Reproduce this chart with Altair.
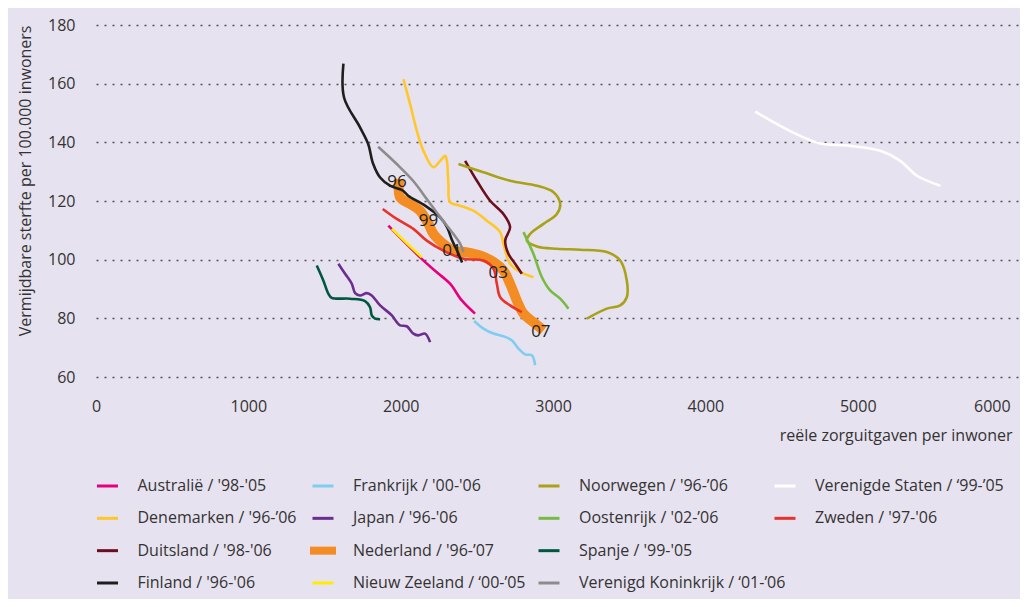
import altair as alt
import pandas as pd

# ---------------- data ----------------
COUNTRIES = [
    "Australië", "Denemarken", "Duitsland", "Finland",
    "Frankrijk", "Japan", "Nederland", "Nieuw Zeeland",
    "Noorwegen", "Oostenrijk", "Spanje", "Verenigd Koninkrijk",
    "Verenigde Staten", "Zweden",
]
LEGEND_LABELS = [
    "Australië / '98-'05", "Denemarken / '96-’06", "Duitsland / '98-'06", "Finland / '96-'06",
    "Frankrijk / '00-'06", "Japan / '96-'06", "Nederland / '96-’07", "Nieuw Zeeland / ‘00-’05",
    "Noorwegen / '96-’06", "Oostenrijk / '02-’06", "Spanje / '99-'05", "Verenigd Koninkrijk / ‘01-’06",
    "Verenigde Staten / ‘99-’05", "Zweden / '97-'06",
]
COLORS = [
    "#E6007E", "#FFC72C", "#6B0E1E", "#1E1E1E",
    "#7FCDF0", "#6B2D8F", "#F28C23", "#FFED00",
    "#A9A218", "#76BC43", "#00573F", "#8C8C8C",
    "#FFFFFF", "#E8332A",
]

AUS_X = [1919, 2127, 2237, 2324, 2401, 2488]
AUS_Y = [111.6, 100.8, 95.7, 91.8, 86.1, 81.6]

DEN_X = [2018, 2062, 2106, 2149, 2215, 2259, 2292, 2303, 2313, 2324, 2390, 2477, 2565, 2653, 2674, 2718, 2784, 2871]
DEN_Y = [161.5, 153.0, 143.9, 137.1, 131.5, 133.7, 135.4, 133.7, 125.8, 119.6, 118.4, 116.7, 113.3, 109.4, 105.4, 98.6, 95.8, 94.0]

DUI_X = [2423, 2500, 2587, 2674, 2718, 2686, 2707, 2751, 2795]
DUI_Y = [133.7, 126.9, 120.1, 115.6, 111.1, 106.5, 102.0, 98.6, 95.2]

FIN_X = [1624, 1628, 1733, 1786, 1819, 1865, 1930, 2016, 2049, 2160, 2259, 2305, 2338, 2370, 2403]
FIN_Y = [166.8, 155.3, 145.1, 139.5, 132.7, 128.0, 125.2, 123.5, 121.8, 118.4, 114.4, 111.0, 106.5, 103.1, 99.0]

FRA_X = [2482, 2543, 2609, 2674, 2729, 2773, 2817, 2861, 2876, 2882]
FRA_Y = [79.1, 76.5, 74.8, 73.9, 72.5, 69.7, 67.7, 67.4, 65.7, 64.0]

JAP_X = [1591, 1635, 1679, 1701, 1733, 1777, 1810, 1865, 1942, 1974, 1996, 2040, 2083, 2116, 2160, 2193]
JAP_Y = [98.6, 95.2, 91.8, 88.6, 87.8, 88.6, 87.8, 84.4, 81.0, 78.7, 77.6, 77.3, 74.8, 74.2, 74.8, 71.9]

NED_X = [1991, 1996, 2062, 2127, 2182, 2215, 2280, 2346, 2434, 2521, 2609, 2674, 2718, 2762, 2806, 2871, 2937]
NED_Y = [127.5, 121.3, 119.0, 116.7, 112.2, 108.8, 105.4, 103.1, 102.5, 101.4, 99.2, 96.3, 91.8, 86.1, 81.6, 78.7, 75.9]

NZL_X = [1942, 2040, 2139]
NZL_Y = [110.5, 105.6, 100.8]

NOR_X = [2379, 2543, 2718, 2894, 3003, 3047, 3025, 2937, 2850, 2828, 2894, 3025, 3178, 3353, 3441, 3484, 3484, 3441, 3353, 3222]
NOR_Y = [132.6, 129.8, 126.9, 125.2, 123.0, 119.0, 115.6, 112.2, 108.8, 106.5, 104.5, 103.7, 103.4, 102.6, 99.7, 92.9, 87.2, 84.4, 83.3, 79.9]

OOS_X = [2806, 2871, 2927, 2981, 3047, 3101]
OOS_Y = [109.4, 102.0, 94.0, 89.5, 86.7, 83.3]

SPA_X = [1449, 1492, 1525, 1547, 1668, 1766, 1799, 1810, 1832, 1865]
SPA_Y = [98.0, 92.9, 88.4, 87.0, 86.7, 85.9, 83.8, 81.0, 79.9, 79.7]

VK_X = [1852, 1974, 2081, 2171, 2259, 2344, 2390, 2412]
VK_Y = [138.5, 132.6, 126.9, 120.7, 114.5, 108.9, 105.5, 102.6]

VS_X = [4327, 4491, 4622, 4754, 4951, 5148, 5279, 5389, 5542]
VS_Y = [150.5, 145.6, 142.2, 139.6, 138.8, 137.1, 133.7, 128.6, 125.2]

ZWE_X = [1882, 1974, 2083, 2171, 2280, 2412, 2543, 2609, 2631, 2653, 2718, 2795]
ZWE_Y = [117.3, 113.9, 110.5, 106.5, 103.1, 100.3, 99.7, 96.9, 91.8, 87.2, 84.4, 82.1]

NL_YEAR_LABELS = ["96", "99", "01", "03", "07"]
NL_YEAR_X = [1976, 2182, 2336, 2640, 2920]
NL_YEAR_Y = [126.4, 113.3, 103.1, 95.6, 75.3]

X_TICKS = [0, 1000, 2000, 3000, 4000, 5000, 6000]
Y_TICKS = [60, 80, 100, 120, 140, 160, 180]

SERIES = {
    "Australië": (AUS_X, AUS_Y), "Denemarken": (DEN_X, DEN_Y), "Duitsland": (DUI_X, DUI_Y),
    "Finland": (FIN_X, FIN_Y), "Frankrijk": (FRA_X, FRA_Y), "Japan": (JAP_X, JAP_Y),
    "Nederland": (NED_X, NED_Y), "Nieuw Zeeland": (NZL_X, NZL_Y), "Noorwegen": (NOR_X, NOR_Y),
    "Oostenrijk": (OOS_X, OOS_Y), "Spanje": (SPA_X, SPA_Y), "Verenigd Koninkrijk": (VK_X, VK_Y),
    "Verenigde Staten": (VS_X, VS_Y), "Zweden": (ZWE_X, ZWE_Y),
}

# draw order (later = on top)
DRAW_ORDER = ["Nederland", "Australië", "Nieuw Zeeland", "Zweden", "Finland", "Verenigd Koninkrijk",
              "Denemarken", "Duitsland", "Noorwegen", "Oostenrijk", "Frankrijk", "Japan", "Spanje",
              "Verenigde Staten"]

rows = []
for name in COUNTRIES:
    xs, ys = SERIES[name]
    for i, (xv, yv) in enumerate(zip(xs, ys)):
        rows.append({"country": name, "idx": i, "x": xv, "y": yv})
df = pd.DataFrame(rows)
lab_df = pd.DataFrame({"label": NL_YEAR_LABELS, "x": NL_YEAR_X, "y": NL_YEAR_Y})
leg_df = pd.DataFrame({
    "country": COUNTRIES,
    "label": LEGEND_LABELS,
    "col": [i // 4 for i in range(len(COUNTRIES))],
    "row": [i % 4 for i in range(len(COUNTRIES))],
})

FONT = "Open Sans"
TXT = "#333333"
BG = "#E7E2EF"
FS = 16

color = alt.Color("country:N", scale=alt.Scale(domain=COUNTRIES, range=COLORS), legend=None)

x_enc = alt.X(
    "x:Q",
    scale=alt.Scale(domain=[0, 6065], nice=False, zero=False),
    axis=alt.Axis(
        values=X_TICKS, format="d", grid=False, domain=False, ticks=False, tickSize=0,
        labelPadding=21, labelFontSize=FS, labelColor=TXT, labelFont=FONT, labelFlush=False,
        labelAlign=alt.expr("datum.value == 6000 ? 'right' : 'center'"),
        title="reële zorguitgaven per inwoner", titleFont=FONT, titleFontSize=FS,
        titleFontWeight="normal", titleColor=TXT, titleX=916, titleAlign="right",
        titlePadding=13,
    ),
)
y_enc = alt.Y(
    "y:Q",
    scale=alt.Scale(domain=[60, 180], nice=False, zero=False),
    axis=alt.Axis(
        values=Y_TICKS, grid=True, gridDash=[2, 6], gridColor="#555555", gridWidth=1.5,
        domain=False, ticks=False, tickSize=0, labelPadding=21, labelFontSize=FS,
        labelColor=TXT, labelFont=FONT,
        title="Vermijdbare sterfte per 100.000 inwoners", titleFont=FONT, titleFontSize=FS,
        titleFontWeight="normal", titleColor=TXT, titleAnchor="end", titlePadding=14,
    ),
)

layers = [
    alt.Chart(df).transform_filter(alt.datum.country == "Nederland").mark_line(
        strokeWidth=10, interpolate="catmull-rom"
    ).encode(x=x_enc, y=y_enc, color=color, order="idx:Q")
]
for name in DRAW_ORDER[1:]:
    layers.append(
        alt.Chart(df).transform_filter(alt.datum.country == name).mark_line(
            strokeWidth=2.6, interpolate="catmull-rom"
        ).encode(x="x:Q", y="y:Q", color=color, order="idx:Q")
    )

labels = alt.Chart(lab_df).mark_text(
    fontSize=17, font=FONT, color="#222222", align="center", baseline="middle"
).encode(x="x:Q", y="y:Q", text="label:N")
layers.append(labels)

plot = alt.layer(*layers).properties(width=924, height=352)

# ---- legend panel ----
leg_x = alt.X("col:Q", scale=alt.Scale(domain=[0, 1, 2, 3], range=[11.5, 227, 453, 689]), axis=None)
leg_y = alt.Y("row:Q", scale=alt.Scale(domain=[0, 3], range=[16, 113]), axis=None)

leg_sym = alt.Chart(leg_df).mark_point(shape="stroke", filled=False, opacity=1).encode(
    x=leg_x, y=leg_y, color=color,
    size=alt.condition(alt.datum.country == "Nederland", alt.value(676), alt.value(441)),
    strokeWidth=alt.condition(alt.datum.country == "Nederland", alt.value(8), alt.value(3)),
)
leg_txt = alt.Chart(leg_df).mark_text(
    align="left", baseline="middle", dx=30, fontSize=FS, font=FONT, color=TXT
).encode(x="col:Q", y="row:Q", text="label:N")

legend = alt.layer(leg_sym, leg_txt).properties(width=924, height=129)

chart = alt.vconcat(plot, legend, spacing=27).properties(
    background=BG,
    padding={"left": 9, "top": 9, "right": 0, "bottom": 0},
).configure_view(stroke=None)

chart.save("out.html", embed_options={"renderer": "svg", "actions": False})
